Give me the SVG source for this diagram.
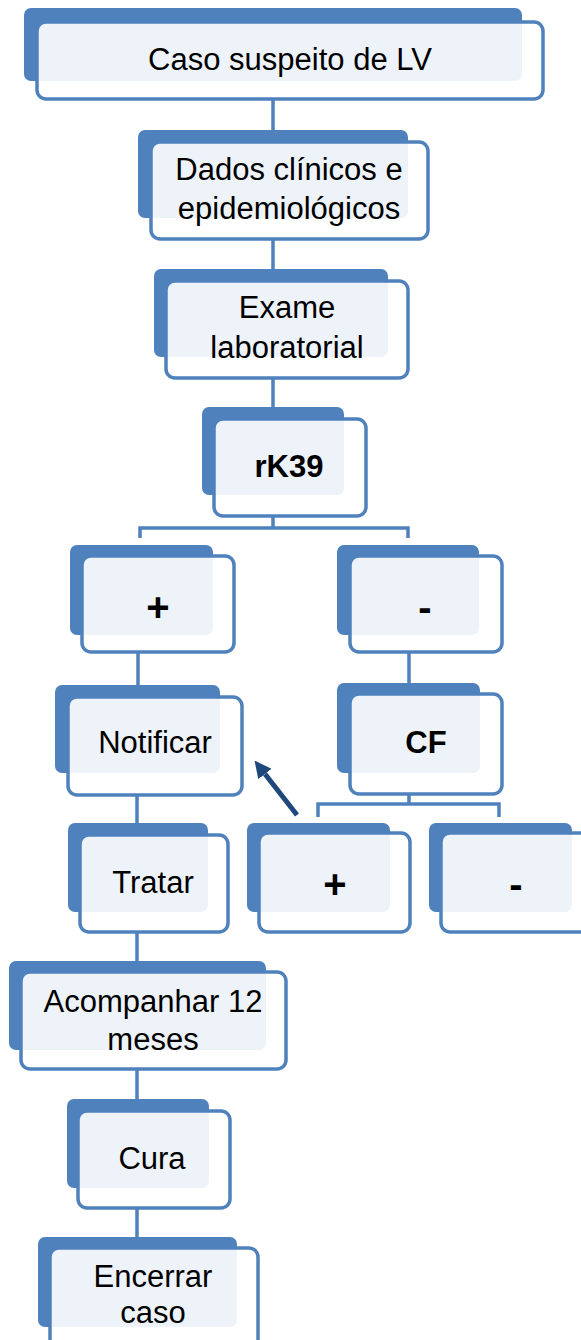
<svg xmlns="http://www.w3.org/2000/svg" width="581" height="1340" viewBox="0 0 581 1340">
<style>
.back{fill:#4F81BD}
.front{fill:#ffffff;fill-opacity:0.9;stroke:#4F81BD;stroke-width:3.5}
.t{font-family:"Liberation Sans",Arial,sans-serif;font-size:31px;fill:#000;text-anchor:middle}
.b{font-weight:bold}
.s{font-size:40px}
.c{fill:none;stroke:#4F81BD;stroke-width:3.5}
</style>
<defs>
<marker id="ah" viewBox="0 0 10 10" refX="0" refY="5" markerWidth="3.4" markerHeight="3.4" orient="auto" markerUnits="strokeWidth">
<path d="M0,0 L10,5 L0,10 z" fill="#1F497D"/>
</marker>
</defs>
<g id="connectors">
<path class="c" d="M273,99 V130"/>
<path class="c" d="M273,239 V269"/>
<path class="c" d="M273,378 V407"/>
<path class="c" d="M273,516 V528 M140,538 V528 H408 V538"/>
<path class="c" d="M138,652 V685"/>
<path class="c" d="M409,652 V683"/>
<path class="c" d="M409,794 V804 M318,817 V804 H499 V817"/>
<path class="c" d="M137,795 V823"/>
<path class="c" d="M137,932 V961"/>
<path class="c" d="M137,1069 V1099"/>
<path class="c" d="M137,1208 V1237"/>
<line x1="297" y1="815" x2="265" y2="774" stroke="#1F497D" stroke-width="5" marker-end="url(#ah)"/>
</g>
<g id="n1">
<rect class="back" x="24" y="8" width="498" height="73" rx="7"/>
<rect class="front" x="37" y="22" width="506" height="77" rx="9"/>
<text class="t" x="290" y="70">Caso suspeito de LV</text>
</g>
<g id="n2">
<rect class="back" x="138" y="130" width="270" height="88" rx="7"/>
<rect class="front" x="151" y="142" width="277" height="97" rx="9"/>
<text class="t" x="289" y="180">Dados clínicos e</text>
<text class="t" x="289" y="219">epidemiológicos</text>
</g>
<g id="n3">
<rect class="back" x="154" y="269" width="234" height="88" rx="7"/>
<rect class="front" x="166" y="281" width="242" height="97" rx="9"/>
<text class="t" x="287" y="318">Exame</text>
<text class="t" x="287" y="358">laboratorial</text>
</g>
<g id="n4">
<rect class="back" x="202" y="407" width="142" height="88" rx="7"/>
<rect class="front" x="214" y="419" width="152" height="97" rx="9"/>
<text class="t b" x="289" y="477">rK39</text>
</g>
<g id="n5">
<rect class="back" x="70" y="545" width="143" height="90" rx="7"/>
<rect class="front" x="82" y="556" width="152" height="96" rx="9"/>
<text class="t b s" x="158" y="621">+</text>
</g>
<g id="n6">
<rect class="back" x="337" y="545" width="142" height="90" rx="7"/>
<rect class="front" x="350" y="556" width="152" height="96" rx="9"/>
<text class="t b s" x="425" y="621">-</text>
</g>
<g id="n7">
<rect class="back" x="55" y="685" width="165" height="88" rx="7"/>
<rect class="front" x="68" y="697" width="174" height="98" rx="9"/>
<text class="t" x="155" y="753">Notificar</text>
</g>
<g id="n8">
<rect class="back" x="337" y="683" width="143" height="90" rx="7"/>
<rect class="front" x="350" y="694" width="152" height="100" rx="9"/>
<text class="t b" x="426" y="753">CF</text>
</g>
<g id="n9">
<rect class="back" x="247" y="823" width="143" height="89" rx="7"/>
<rect class="front" x="259" y="833" width="151" height="99" rx="9"/>
<text class="t b s" x="335" y="898">+</text>
</g>
<g id="n10">
<rect class="back" x="429" y="823" width="143" height="89" rx="7"/>
<rect class="front" x="441" y="833" width="152" height="99" rx="9"/>
<text class="t b s" x="516" y="898">-</text>
</g>
<g id="n11">
<rect class="back" x="68" y="823" width="140" height="89" rx="7"/>
<rect class="front" x="80" y="835" width="148" height="97" rx="9"/>
<text class="t" x="153" y="893">Tratar</text>
</g>
<g id="n12">
<rect class="back" x="9" y="961" width="257" height="89" rx="7"/>
<rect class="front" x="21" y="972" width="265" height="97" rx="9"/>
<text class="t" x="153" y="1012">Acompanhar 12</text>
<text class="t" x="153" y="1050">meses</text>
</g>
<g id="n13">
<rect class="back" x="67" y="1099" width="142" height="89" rx="7"/>
<rect class="front" x="78" y="1111" width="152" height="97" rx="9"/>
<text class="t" x="152" y="1169">Cura</text>
</g>
<g id="n14">
<rect class="back" x="38" y="1237" width="199" height="90" rx="7"/>
<rect class="front" x="50" y="1248" width="208" height="110" rx="9"/>
<text class="t" x="153" y="1287">Encerrar</text>
<text class="t" x="153" y="1323">caso</text>
</g>
</svg>
